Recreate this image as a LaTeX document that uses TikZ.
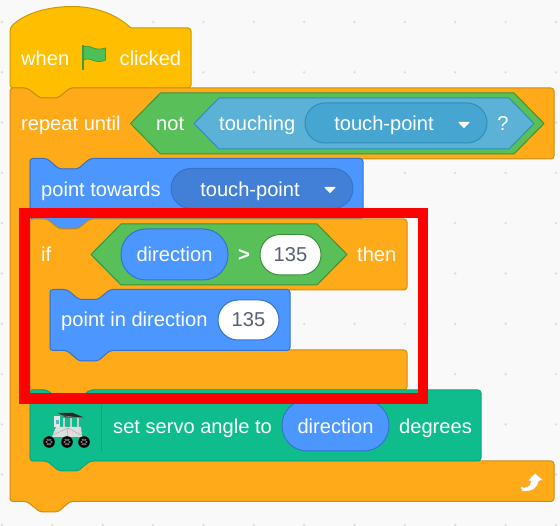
\documentclass[tikz,border=0pt]{standalone}
\usepackage{fontspec}
\setmainfont{Liberation Sans}
\definecolor{bgc}{HTML}{F9F9F9}
\definecolor{dotc}{HTML}{DDDDDD}
\definecolor{hatF}{HTML}{FFBF00}\definecolor{hatS}{HTML}{CC9900}
\definecolor{ctlF}{HTML}{FFAB19}\definecolor{ctlS}{HTML}{CF8B17}
\definecolor{motF}{HTML}{4C97FF}\definecolor{motS}{HTML}{3373CC}
\definecolor{menuF}{HTML}{4280D7}
\definecolor{extF}{HTML}{0FBD8C}\definecolor{extS}{HTML}{0DA57A}
\definecolor{opF}{HTML}{59C059}\definecolor{opS}{HTML}{389438}
\definecolor{senF}{HTML}{5CB1D6}\definecolor{senS}{HTML}{2E8EB8}
\definecolor{senM}{HTML}{47A6D1}
\definecolor{numT}{HTML}{575E75}
\definecolor{flagF}{HTML}{4CBF56}\definecolor{flagS}{HTML}{45993D}
\tikzset{
  x=1pt,y=-1pt,
  blk/.style={line width=1pt,rounded corners=3pt,line join=round},
  hatb/.style={blk,fill=hatF,draw=hatS},
  ctlb/.style={blk,fill=ctlF,draw=ctlS},
  motb/.style={blk,fill=motF,draw=motS},
  extb/.style={blk,fill=extF,draw=extS},
  opb/.style={line width=1pt,line join=round,fill=opF,draw=opS},
  senb/.style={line width=1pt,line join=round,fill=senF,draw=senS},
  lab/.style={text=white,font=\fontsize{20.1}{21}\selectfont,inner sep=0pt,anchor=base west},
  labc/.style={lab,anchor=base},
  numl/.style={lab,anchor=base,text=numT},
  pill/.style={line width=1pt,rounded corners=20pt},
  menupill/.style={pill,fill=menuF,draw=motS},
  senpill/.style={pill,fill=senM,draw=senS},
  varpill/.style={line width=1pt,rounded corners=25pt,fill=motF,draw=motS},
  numpill/.style={line width=1pt,rounded corners=20pt,fill=white,draw=motS},
  numpillop/.style={line width=1pt,rounded corners=20pt,fill=white,draw=opS},
  tri/.style={fill=white,draw=white,line width=1pt,line join=round},
  redbox/.style={draw=red,line width=10.5pt,miter limit=10},
}
\begin{document}
\begin{tikzpicture}
\useasboundingbox (0,0) rectangle (560,526);
\fill[bgc] (0,0) rectangle (560,526);
% workspace dots
\foreach \c in {0,...,11}{\foreach \r in {0,...,10}{
  \fill[dotc] ({2+50.36*\c},{22+50.3*\r}) circle (1.3);}}
% hat block
\draw[hatb] (10,28) [sharp corners] .. controls (22,15) and (45,6.5) .. (72,6.5) .. controls (97,6.5) and (117,15) .. (131,28)
  [rounded corners=3pt] -- (191,28) -- (191,88) -- (70,88) -- (58,98) -- (40,98) -- (27,88) -- (10,88) -- cycle;
% repeat until
\draw[ctlb] (10,88) -- (27,88) -- (40,98) -- (58,98) -- (70,88) -- (554,88) -- (554,159)
  -- (90,159) -- (78,169) -- (59,169) -- (47,159) -- (30,159) -- (30,461) -- (554,461) -- (554,501.5)
  -- (70,501.5) -- (58,512) -- (40,512) -- (27,501.5) -- (10,501.5) -- cycle;
% point towards
\draw[motb] (30,158.5) -- (47,158.5) -- (59,169) -- (78,169) -- (90,158.5) -- (363,158.5) -- (363,219)
  -- (90,219) -- (78,229) -- (59,229) -- (47,219) -- (30,219) -- cycle;
% if block
\draw[ctlb] (30,219) -- (47,219) -- (59,229) -- (78,229) -- (90,219) -- (407,219) -- (407,290)
  -- (110,290) -- (98,300) -- (79,300) -- (67,290) -- (50,290) -- (50,350) -- (407,350) -- (407,390)
  -- (90,390) -- (78,400) -- (59,400) -- (47,390) -- (30,390) -- cycle;
% set servo
\draw[extb] (30,390) -- (47,390) -- (59,400) -- (78,400) -- (90,390) -- (481,390) -- (481,461)
  -- (90,461) -- (78,471) -- (59,471) -- (47,461) -- (30,461) -- cycle;
% point in direction
\draw[motb] (50,289.5) -- (67,289.5) -- (79,299.5) -- (98,299.5) -- (110,289.5) -- (290,289.5) -- (290,350.5)
  -- (110,350.5) -- (98,361) -- (79,361) -- (67,350.5) -- (50,350.5) -- cycle;
% flag
\draw[flagS,line width=2pt] (83,45) -- (83,70.5);
\draw[fill=flagF,draw=flagS,line width=.8pt] (83.5,46.5) .. controls (90,44) and (94,52) .. (105.5,48)
  -- (105.5,60) .. controls (95,65) and (91,56) .. (83.5,60) -- cycle;
% conditions of repeat
\draw[opb] (130.5,123.5) -- (160.5,93) -- (514,93) -- (544,123.5) -- (514,154) -- (160.5,154) -- cycle;
\draw[senb] (194,123.5) -- (219,98) -- (509,98) -- (534,123.5) -- (509,149) -- (219,149) -- cycle;
\draw[senpill] (305,103) rectangle (487,143);
\draw[tri] (459,122.5) -- (469,122.5) -- (464,127.5) -- cycle;
% point towards menu
\draw[menupill] (171,168.5) rectangle (353,208.5);
\draw[tri] (325,187.5) -- (335,187.5) -- (330,192.5) -- cycle;
% if condition
\draw[opb] (91,254.5) -- (121,224) -- (317,224) -- (347,254.5) -- (317,285) -- (121,285) -- cycle;
\draw[varpill] (121,229) rectangle (228,280);
\draw[numpillop] (260,234.5) rectangle (321,275);
% point in direction value
\draw[numpill] (218,300) rectangle (279,340);
% set servo variable and icon
\draw[varpill] (282,400) rectangle (389,451);
\draw[extS,line width=.8pt] (101,395) -- (101,451);
% robot icon
\fill[black!85] (58,413) -- (73,413) -- (84,417.5) -- (66,417.5) -- cycle;
\draw[black!50,line width=.7pt] (57,415) -- (84,418.5);
\draw[black!20,line width=1.5pt] (64,418) -- (64,428) (71,418) -- (71,428) (78,418) -- (78,428);
\fill[black!10] (54,416) rectangle (60,427);
\fill[senF] (56,420) rectangle (58.5,424);
\fill[black!13] (56,427) -- (81,427) -- (82,437) -- (52,437) -- cycle;
\draw[black!30,line width=.6pt] (53,435) -- (68,428) -- (81,435) (68,427) -- (67,437);
\foreach \wx in {49,67,84}{
  \fill[black] (\wx,442) circle (5.8);
  \fill[black!45] (\wx,442) circle (3.4);
  \fill[black] (\wx,442) circle (1.2);
  \draw[black,line width=.7pt] (\wx-3.5,440) -- (\wx+3.5,444) (\wx-3.5,444) -- (\wx+3.5,440) (\wx,438.5) -- (\wx,445.5);
}
% loop arrow
\draw[fill=white,draw=ctlS!70!white,line width=.6pt,line join=round] (520,486.5)
  .. controls (526,488.5) and (530,487) .. (531,481) -- (527.5,481) -- (535,473) -- (543,480) -- (539,481)
  .. controls (538,488) and (532,492.5) .. (522,491) -- cycle;
% texts
\node[lab] (twhen) at (21,66) {when};
\node[lab] (tclicked) at (119.5,66) {clicked};
\node[lab] (trepeat) at (21,131) {repeat until};
\node[lab] (tnot) at (156,131) {not};
\node[lab] (ttouching) at (219,131) {touching};
\node[labc] (tmenua) at (384,131) {touch-point};
\node[labc] (tq) at (503,131) {?};
\node[lab] (tpoint) at (41,197) {point towards};
\node[labc] (tmenub) at (250,197) {touch-point};
\node[lab] (tif) at (41,262) {if};
\node[labc] (tdira) at (174.5,262) {direction};
\node[labc,font=\fontsize{20.1}{21}\selectfont\bfseries] (tgt) at (244,262) {>};
\node[numl] (tnuma) at (290.5,262) {135};
\node[lab] (tthen) at (357,262) {then};
\node[lab] (tpdir) at (61,327) {point in direction};
\node[numl] (tnumb) at (248.5,327) {135};
\node[lab] (tset) at (113,434) {set servo angle to};
\node[labc] (tdirb) at (335.5,434) {direction};
\node[lab] (tdeg) at (399,434) {degrees};
% red frame
\draw[redbox] (24.5,213) rectangle (423,398.5);
\end{tikzpicture}
\end{document}
